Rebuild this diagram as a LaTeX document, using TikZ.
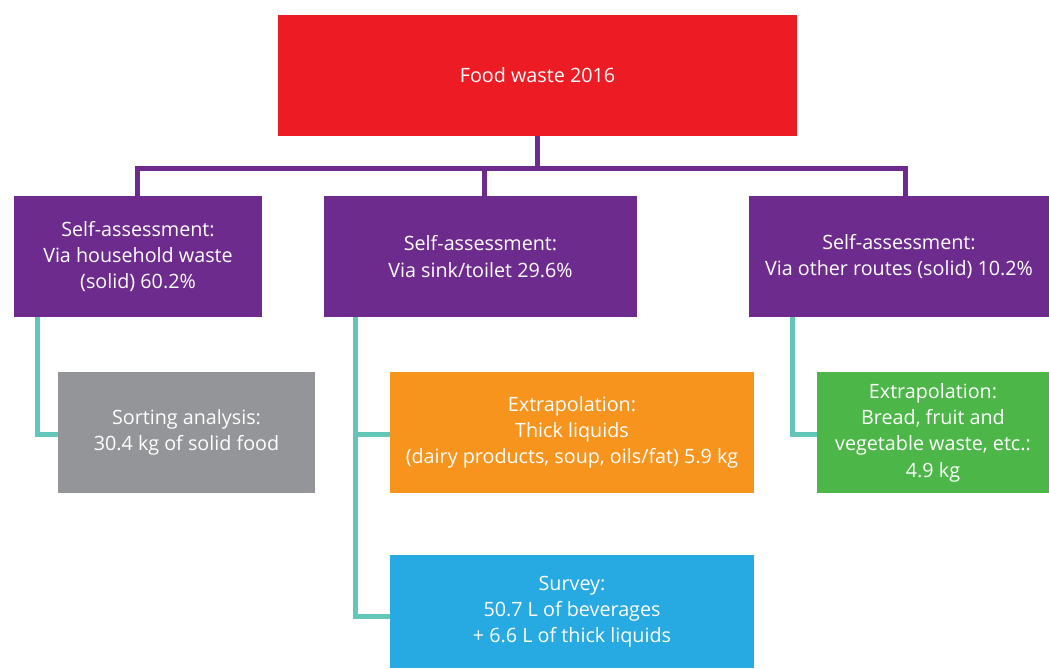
\documentclass[tikz,border=0pt]{standalone}
\usepackage{fontspec}
\setmainfont{Open Sans}
\definecolor{fwred}{HTML}{ED1C24}
\definecolor{fwpurple}{HTML}{6D2C8D}
\definecolor{fworange}{HTML}{F7941D}
\definecolor{fwblue}{HTML}{27A9E1}
\definecolor{fwgreen}{HTML}{4CB748}
\definecolor{fwgrey}{HTML}{939598}
\definecolor{fwteal}{HTML}{62C6B9}
\tikzset{
  box/.style={rectangle, inner sep=0pt, outer sep=0pt, text=white, align=center,
    font=\fontsize{14.8}{19.7}\selectfont, minimum height=90.75pt},
  pline/.style={draw=fwpurple, line width=3.75pt},
  tline/.style={draw=fwteal, line width=3.75pt},
}
\begin{document}
\begin{tikzpicture}[x=0.75pt, y=-0.75pt]
\useasboundingbox (0,0) rectangle (1049,668);
\node[box, fill=fwred, minimum width=389.25pt] (top) at (537.5,75.5) {Food waste 2016};
\node[box, fill=fwpurple, minimum width=186pt] (p1) at (138,256.5) {Self-assessment:\\Via household waste\\(solid) 60.2\%};
\node[box, fill=fwpurple, minimum width=234.75pt] (p2) at (480.5,256.5) {Self-assessment:\\Via sink/toilet 29.6\%};
\node[box, fill=fwpurple, minimum width=225pt] (p3) at (899,256.5) {Self-assessment:\\Via other routes (solid) 10.2\%};
\node[box, fill=fwgrey, minimum width=192.75pt] (grey) at (186.5,432.5) {Sorting analysis:\\30.4 kg of solid food};
\node[box, fill=fworange, minimum width=273pt] (orange) at (572,432.5) {Extrapolation:\\Thick liquids\\(dairy products, soup, oils/fat) 5.9 kg};
\node[box, fill=fwgreen, minimum width=174pt] (green) at (933,432.5) {Extrapolation:\\Bread, fruit and\\vegetable waste, etc.:\\4.9 kg};
\node[box, fill=fwblue, minimum width=273pt, minimum height=84.75pt] (blue) at (572,611.5) {Survey:\\50.7 L of beverages\\+ 6.6 L of thick liquids};
% purple bus
\coordinate (busL) at (137,168);
\coordinate (busR) at (905,168);
\coordinate (busM) at (484,168);
\draw[pline] ([xshift=-1.875pt]busL) -- ([xshift=1.875pt]busR);
\draw[pline] (top.south) -- (top.south |- busL);
\draw[pline] (busL) -- (busL |- p1.north);
\draw[pline] (busM) -- (busM |- p2.north);
\draw[pline] (busR) -- (busR |- p3.north);
% teal connectors
\coordinate (tL) at (37,0);
\coordinate (tM) at (355,0);
\coordinate (tR) at (792,0);
\draw[tline, line join=miter] (tL |- p1.south) |- ([yshift=-1.5pt]grey.west);
\draw[tline, line join=miter] (tM |- p2.south) |- ([yshift=-4pt]blue.west);
\draw[tline] ([yshift=-1.5pt]orange.west) -- ([yshift=-1.5pt]tM |- orange.west);
\draw[tline, line join=miter] (tR |- p3.south) |- ([yshift=-1.5pt]green.west);
\end{tikzpicture}
\end{document}
